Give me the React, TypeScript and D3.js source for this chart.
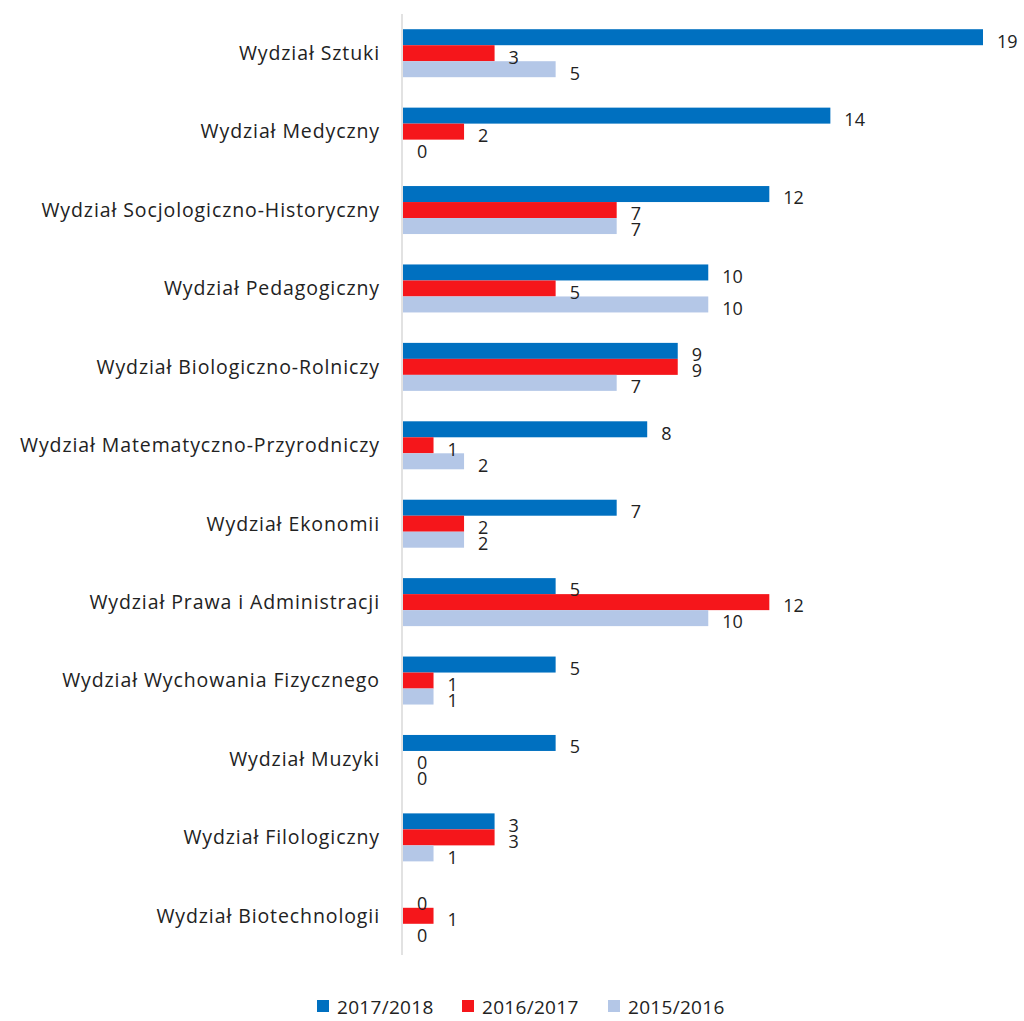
import React from "react";
import * as d3 from "d3";

const categories = [
  "Wydział Sztuki",
  "Wydział Medyczny",
  "Wydział Socjologiczno-Historyczny",
  "Wydział Pedagogiczny",
  "Wydział Biologiczno-Rolniczy",
  "Wydział Matematyczno-Przyrodniczy",
  "Wydział Ekonomii",
  "Wydział Prawa i Administracji",
  "Wydział Wychowania Fizycznego",
  "Wydział Muzyki",
  "Wydział Filologiczny",
  "Wydział Biotechnologii",
];
const seriesNames = ["2017/2018", "2016/2017", "2015/2016"];
const v2017 = [19, 14, 12, 10, 9, 8, 7, 5, 5, 5, 3, 0];
const v2016 = [3, 2, 7, 5, 9, 1, 2, 12, 1, 0, 3, 1];
const v2015 = [5, 0, 7, 10, 7, 2, 2, 10, 1, 0, 1, 0];
const colors = ["#0070C0", "#F5161B", "#B4C7E7"];

export default function App() {
  const W = 1024, H = 1021;
  const values = [v2017, v2016, v2015];
  const x = d3.scaleLinear().domain([0, 19]).range([403, 983]);
  const y = d3.scaleBand().domain(categories).range([14, 955]).paddingInner(0.388).paddingOuter(0.194);
  const inner = d3.scaleBand().domain(seriesNames).range([0, y.bandwidth()]);
  const font = "'Open Sans', Lato, sans-serif";
  return (
    <svg width={W} height={H} style={{ position: "absolute", left: 0, top: 0, fontFamily: font }}>
      <rect width={W} height={H} fill="#fff" />
      {categories.map((c) => (
        <text key={c} x={380} y={(y(c) as number) + y.bandwidth() / 2} dy="0.35em" textAnchor="end" fontSize={19.5} letterSpacing={0.9} fill="#222">
          {c}
        </text>
      ))}
      {seriesNames.map((s, si) =>
        categories.map((c, ci) => {
          const v = values[si][ci];
          const by = (y(c) as number) + (inner(s) as number);
          return <rect key={s + c} x={x(0)} y={by} width={x(v) - x(0)} height={inner.bandwidth()} fill={colors[si]} />;
        })
      )}
      {seriesNames.map((s, si) =>
        categories.map((c, ci) => {
          const v = values[si][ci];
          const by = (y(c) as number) + (inner(s) as number);
          return (
            <text key={"t" + s + c} x={x(v) + 14} y={by + inner.bandwidth() / 2 + 4} dy="0.35em" fontSize={18} fill="#222">
              {v}
            </text>
          );
        })
      )}
      <line x1={402} x2={402} y1={14} y2={955} stroke="#D9D9D9" strokeWidth={1.5} />
      {seriesNames.map((s, i) => {
        const lx = [317, 462, 608][i];
        return (
          <g key={s}>
            <rect x={lx} y={1000} width={12} height={12} fill={colors[i]} />
            <text x={lx + 20} y={1007} dy="0.35em" fontSize={19} letterSpacing={0.3} fill="#222">{s}</text>
          </g>
        );
      })}
    </svg>
  );
}
